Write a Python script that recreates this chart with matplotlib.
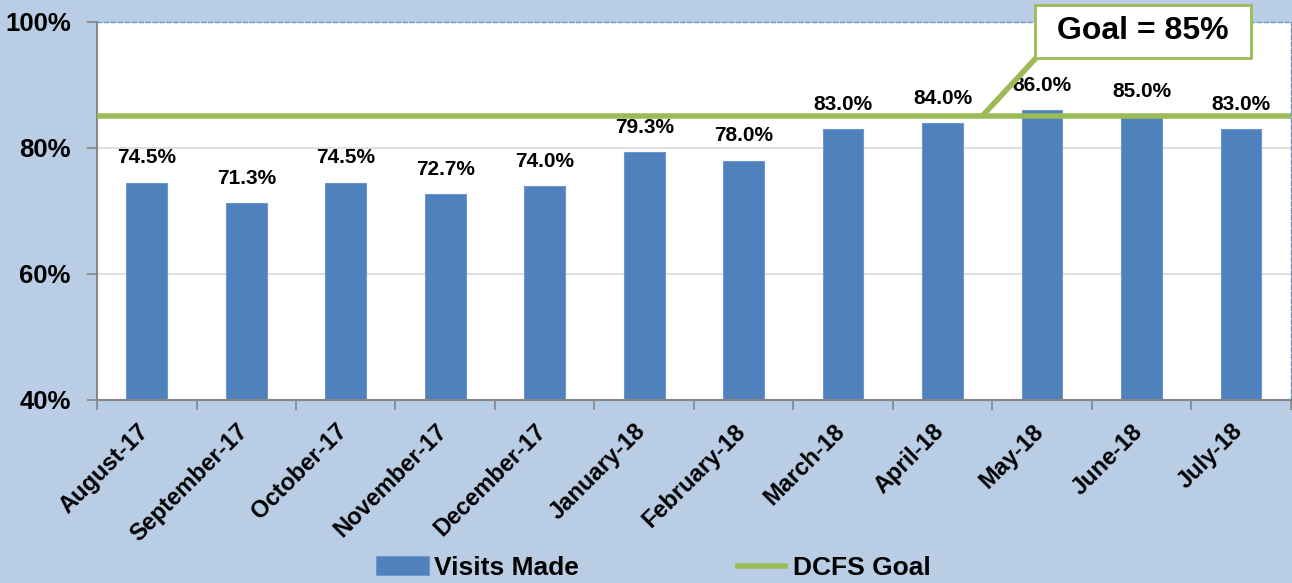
import matplotlib.pyplot as plt
from matplotlib.patches import Rectangle
from matplotlib.transforms import ScaledTranslation
import numpy as np

# chart data
months = ['August-17', 'September-17', 'October-17', 'November-17', 'December-17',
          'January-18', 'February-18', 'March-18', 'April-18', 'May-18', 'June-18', 'July-18']
visits_made = [74.5, 71.3, 74.5, 72.7, 74.0, 79.3, 78.0, 83.0, 84.0, 86.0, 85.0, 83.0]
dcfs_goal = 85
y_ticks = [40, 60, 80, 100]

bg_color = '#B9CDE5'
bar_color = '#4F81BD'
goal_color = '#9BBB59'

plt.rcParams['font.family'] = ['Liberation Sans', 'DejaVu Sans']
plt.rcParams['font.weight'] = 'bold'

fig = plt.figure(figsize=(12.92, 5.83), dpi=100, facecolor=bg_color)
ax = fig.add_axes([0.0751, 0.3139, 0.9239, 0.6484])
ax.set_facecolor('white')

x = np.arange(len(months))
bars = ax.bar(x, visits_made, width=0.41, color=bar_color, edgecolor='#6F97CC',
              linewidth=0.8, zorder=2, label='Visits Made')

# goal line across the whole plot area
goal_line, = ax.plot([-0.5, len(months) - 0.5], [dcfs_goal, dcfs_goal], color=goal_color,
                     lw=4, zorder=3, label='DCFS Goal', solid_capstyle='butt')

# data labels
for xi, v in zip(x, visits_made):
    ax.annotate(f'{v:.1f}%', (xi, v), xytext=(0, 11), textcoords='offset points',
                ha='center', va='bottom', fontsize=15, fontweight='bold', zorder=4)

ax.set_xlim(-0.5, len(months) - 0.5)
ax.set_ylim(40, 100)
ax.set_yticks(y_ticks)
ax.set_yticklabels([f'{t}%' for t in y_ticks], fontsize=18.5, fontweight='bold')
ax.yaxis.grid(True, color='#D9D9D9', lw=1.2, zorder=0)
ax.tick_params(axis='y', length=7, width=1.2, color='#868686', pad=12)

# category ticks at boundaries, labels centered
ax.set_xticks(x)
ax.set_xticklabels(months, rotation=45, ha='right', rotation_mode='anchor',
                   fontsize=17, fontweight='bold')
ax.tick_params(axis='x', length=0, pad=12)
ax.set_xticks(np.arange(-0.5, len(months)), minor=True)
ax.tick_params(axis='x', which='minor', length=7, width=1.2, color='#868686')
shift = ScaledTranslation(-0.10, -0.03, fig.dpi_scale_trans)
for lbl in ax.get_xticklabels():
    lbl.set_transform(lbl.get_transform() + shift)

for side in ['left', 'bottom']:
    ax.spines[side].set_color('#868686')
    ax.spines[side].set_linewidth(1.5)
for side in ['top', 'right']:
    ax.spines[side].set_color('#6F97CC')
    ax.spines[side].set_linestyle((0, (3, 2)))
    ax.spines[side].set_linewidth(1)

# goal callout: leader line from the goal line up to the box
ax.plot([8.395, 8.94], [dcfs_goal, 94.3], color=goal_color, lw=4,
        solid_capstyle='butt', clip_on=False, zorder=5)
fig.patches.append(Rectangle((0.801, 0.9005), 0.1672, 0.0909, transform=fig.transFigure,
                             facecolor='white', edgecolor=goal_color, lw=2, zorder=6))
fig.text(0.8847, 0.946, 'Goal = 85%', ha='center', va='center', fontsize=23,
         fontweight='bold', zorder=7)

fig.legend(handles=[bars, goal_line], labels=['Visits Made', 'DCFS Goal'],
           loc='center', bbox_to_anchor=(0.5058, 0.026), ncol=2, frameon=False,
           handlelength=2.0, handletextpad=0.2, columnspacing=5.9,
           prop={'weight': 'bold', 'size': 19})

fig.savefig('out.png', dpi=100, facecolor=bg_color)
